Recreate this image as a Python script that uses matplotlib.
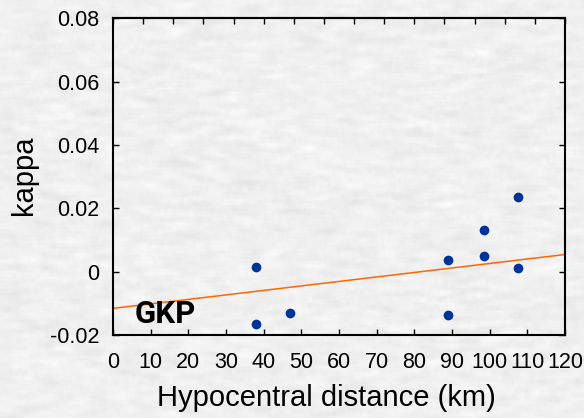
import numpy as np
import matplotlib
matplotlib.use("Agg")
import matplotlib.pyplot as plt

plt.rcParams['font.family'] = ['Liberation Sans', 'DejaVu Sans']

# station GKP: kappa against hypocentral distance
distance = [38, 38, 47, 89, 89, 98.5, 98.5, 107.5, 107.5]
kappa = [0.0015, -0.0165, -0.013, 0.0036, -0.0137, 0.0132, 0.005, 0.0237, 0.0012]

# fitted trend line (intercept, slope per km)
fit_intercept = -0.0116
fit_slope = 0.017 / 120

xticks = list(range(0, 121, 10))
yticks = [-0.02, 0, 0.02, 0.04, 0.06, 0.08]
ytick_labels = ["-0.02", "0", "0.02", "0.04", "0.06", "0.08"]

fig = plt.figure(figsize=(5.84, 4.18), dpi=100)
fig.patch.set_facecolor('#f0f0f0')

# light marbled paper behind everything
bg = fig.add_axes([0, 0, 1, 1], zorder=-10)
rng = np.random.default_rng(3)
noise = rng.normal(0, 1, (210, 292))
kx = np.ones(9) / 9
ky = np.ones(3) / 3
noise = np.apply_along_axis(lambda r: np.convolve(r, kx, mode='same'), 1, noise)
noise = np.apply_along_axis(lambda c: np.convolve(c, ky, mode='same'), 0, noise)
noise = (noise - noise.min()) / (noise.max() - noise.min())
shade = 0.89 + 0.11 * noise
bg.imshow(np.dstack([shade] * 3), aspect='auto', interpolation='bilinear')
bg.axis('off')

ax = fig.add_axes([0.1935, 0.1986, 0.774, 0.758])
ax.patch.set_alpha(0)

xs = np.array([0, 120])
ax.plot(xs, fit_intercept + fit_slope * xs, color='#ff6600', lw=1.1)
ax.plot(distance, kappa, 'o', color='#003399', ms=7, mec='none')

ax.set_xlim(0, 120)
ax.set_ylim(-0.02, 0.08)
ax.set_xticks(xticks)
ax.set_yticks(yticks)
ax.set_yticklabels(ytick_labels)
ax.tick_params(direction='in', length=4, width=1, labelsize=15.5, right=True)
ax.tick_params(axis='y', pad=10)
ax.tick_params(axis='x', pad=12)
for s in ax.spines.values():
    s.set_linewidth(1.5)

# top axis has its own divisions
top = ax.secondary_xaxis('top')
top.set_xticks(np.arange(0, 121, 8))
top.tick_params(direction='in', length=4, width=1, labeltop=False)
top.spines['top'].set_linewidth(1.5)

fig.text(326 / 584, 1 - 398 / 418, "Hypocentral distance (km)", fontsize=21,
         ha='center', va='center')
fig.text(23.5 / 584, 1 - 175 / 418, "kappa", fontsize=21, rotation=90,
         ha='center', va='center')

ax.text(5.8, -0.0162, "GKP", fontsize=22.5, fontweight='bold',
        family=['Roboto', 'Liberation Sans'])

fig.savefig("out.png", dpi=100)
